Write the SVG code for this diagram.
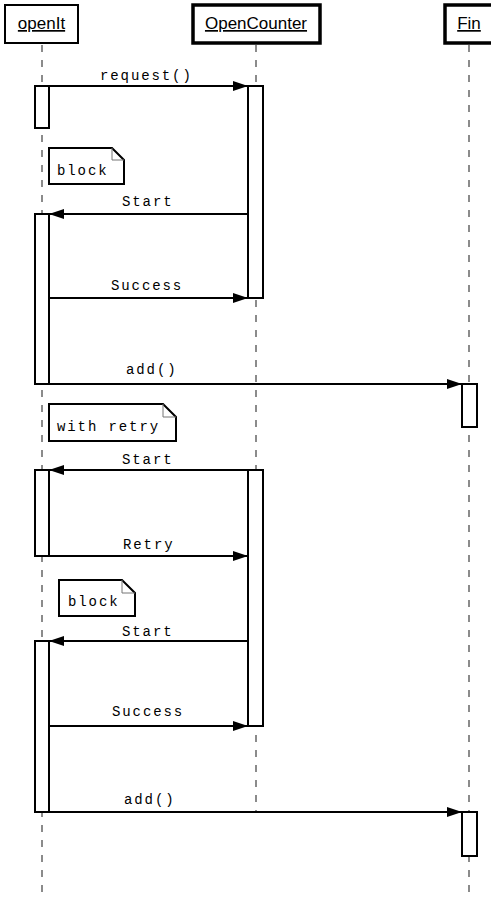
<svg xmlns="http://www.w3.org/2000/svg" width="491" height="897" viewBox="0 0 491 897">
<style>
.hdr{fill:#fff;stroke:#000}
.htxt{font-family:"Liberation Sans",Arial,sans-serif;font-size:17px;fill:#000;text-decoration:underline}
.life{stroke:#666;stroke-width:1.5;stroke-dasharray:7,8;fill:none}
.act{fill:#fff;stroke:#000;stroke-width:2}
.msg{stroke:#000;stroke-width:1.8;fill:none}
.lbl{font-family:"Liberation Mono","Courier New",monospace;font-size:14px;letter-spacing:1.9px;fill:#000}
.note{fill:#fff;stroke:#000;stroke-width:2}
.fold{fill:none;stroke:#777;stroke-width:1}
</style>
<defs>
<marker id="ah" viewBox="0 0 15 10" refX="15" refY="5" markerWidth="15" markerHeight="10" markerUnits="userSpaceOnUse" orient="auto">
<path d="M0,0 L15,5 L0,10 Z" fill="#000"/>
</marker>
</defs>

<g id="lifelines">
<line class="life" x1="42" y1="45" x2="42" y2="897"/>
<line class="life" x1="256" y1="45" x2="256" y2="812"/>
<line class="life" x1="469" y1="45" x2="469" y2="897"/>
</g>

<g id="openIt">
<rect class="hdr" x="5" y="5" width="73" height="38" stroke-width="2"/>
<text class="htxt" x="41.5" y="29" text-anchor="middle">openIt</text>
</g>
<g id="OpenCounter">
<rect class="hdr" x="193" y="5" width="127" height="38" stroke-width="3.5"/>
<text class="htxt" x="256" y="29" text-anchor="middle">OpenCounter</text>
</g>
<g id="Fin">
<rect class="hdr" x="445" y="5" width="50" height="38" stroke-width="3.5"/>
<text class="htxt" x="469" y="29" text-anchor="middle">Fin</text>
</g>

<g id="activations">
<rect class="act" x="35" y="86" width="14" height="42"/>
<rect class="act" x="248" y="86" width="15" height="212"/>
<rect class="act" x="35" y="214" width="14" height="170"/>
<rect class="act" x="462" y="384" width="15" height="43"/>
<rect class="act" x="248" y="470" width="15" height="256"/>
<rect class="act" x="35" y="470" width="14" height="86"/>
<rect class="act" x="35" y="641" width="14" height="171"/>
<rect class="act" x="462" y="812" width="15" height="44"/>
</g>

<g id="note1">
<path class="note" d="M49,148 H112 L124,160 V184 H49 Z"/>
<path class="fold" d="M112,148 V160 H124"/>
<text class="lbl" x="57" y="175">block</text>
</g>
<g id="note2">
<path class="note" d="M49,404 H163 L176,417 V441 H49 Z"/>
<path class="fold" d="M163,404 V417 H176"/>
<text class="lbl" x="57" y="431">with retry</text>
</g>
<g id="note3">
<path class="note" d="M59,580 H122 L135,593 V616 H59 Z"/>
<path class="fold" d="M122,580 V593 H135"/>
<text class="lbl" x="68" y="606">block</text>
</g>

<g id="connectors">
<line class="msg" x1="49" y1="86" x2="248" y2="86" marker-end="url(#ah)"/>
<text class="lbl" x="100" y="80">request()</text>
<line class="msg" x1="248" y1="214" x2="49" y2="214" marker-end="url(#ah)"/>
<text class="lbl" x="122" y="206">Start</text>
<line class="msg" x1="49" y1="298" x2="248" y2="298" marker-end="url(#ah)"/>
<text class="lbl" x="111" y="290">Success</text>
<line class="msg" x1="49" y1="384" x2="462" y2="384" marker-end="url(#ah)"/>
<text class="lbl" x="126" y="374">add()</text>
<line class="msg" x1="248" y1="470" x2="49" y2="470" marker-end="url(#ah)"/>
<text class="lbl" x="122" y="464">Start</text>
<line class="msg" x1="49" y1="556" x2="248" y2="556" marker-end="url(#ah)"/>
<text class="lbl" x="123" y="549">Retry</text>
<line class="msg" x1="248" y1="641" x2="49" y2="641" marker-end="url(#ah)"/>
<text class="lbl" x="122" y="636">Start</text>
<line class="msg" x1="49" y1="726" x2="248" y2="726" marker-end="url(#ah)"/>
<text class="lbl" x="112" y="716">Success</text>
<line class="msg" x1="49" y1="812" x2="462" y2="812" marker-end="url(#ah)"/>
<text class="lbl" x="124" y="804">add()</text>
</g>
</svg>
